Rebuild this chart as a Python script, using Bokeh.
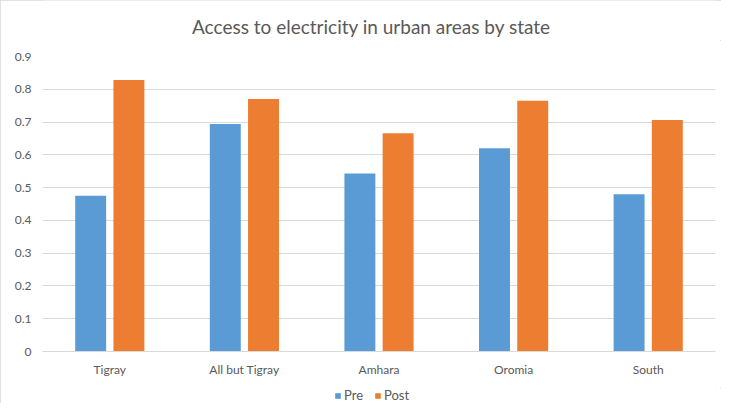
from bokeh.plotting import figure
from bokeh.layouts import column
from bokeh.models import (FactorRange, Range1d, FixedTicker, CustomJSTickFormatter,
                          Legend, LegendItem, ColumnDataSource, Label)
from bokeh.transform import dodge
from bokeh.embed import file_html
from bokeh.resources import INLINE

states = ["Tigray", "All but Tigray", "Amhara", "Oromia", "South"]
pre = [0.475, 0.694, 0.543, 0.620, 0.480]
post = [0.828, 0.770, 0.666, 0.765, 0.706]
y_ticks = [0.0, 0.1, 0.2, 0.3, 0.4, 0.5, 0.6, 0.7, 0.8, 0.9]
series_names = ["Pre", "Post"]
title_text = "Access to electricity in urban areas by state"

PRE_COLOR = "#5B9BD5"
POST_COLOR = "#ED7D31"
TEXT_COLOR = "#595959"
GRID_COLOR = "#D9D9D9"
FONT = "Lato"

source = ColumnDataSource(data=dict(state=states, pre=pre, post=post))

# strip above the chart holding the title (data units = pixels)
tt = figure(width=721, height=40, output_backend="svg", toolbar_location=None,
            x_range=Range1d(42, 715), y_range=Range1d(40, 0),
            min_border=0, min_border_left=0, min_border_right=0,
            min_border_top=0, min_border_bottom=0)
tt.axis.visible = False
tt.grid.visible = False
tt.outline_line_color = None
tt.add_layout(Label(x=371, y=26, text=title_text, text_align="center",
                    text_baseline="middle", text_font=FONT, text_font_size="19px",
                    text_color=TEXT_COLOR))

p = figure(width=721, height=347, output_backend="svg", toolbar_location=None,
           title=None,
           x_range=FactorRange(factors=states, range_padding=0),
           y_range=Range1d(0, 0.9),
           min_border_left=42, min_border_right=6, min_border_top=16, min_border_bottom=36)

r_pre = p.vbar(x=dodge("state", -0.142, range=p.x_range), top="pre", width=0.23,
               source=source, fill_color=PRE_COLOR, line_color=None)
r_post = p.vbar(x=dodge("state", 0.142, range=p.x_range), top="post", width=0.23,
                source=source, fill_color=POST_COLOR, line_color=None)

p.outline_line_color = None
p.xgrid.grid_line_color = None
p.ygrid.grid_line_color = GRID_COLOR
p.ygrid.grid_line_width = 1

p.yaxis.ticker = FixedTicker(ticks=y_ticks)
p.yaxis.formatter = CustomJSTickFormatter(code="return tick == 0 ? '0' : tick.toFixed(1);")
p.yaxis.axis_line_color = None
p.yaxis.major_tick_line_color = None
p.yaxis.minor_tick_line_color = None
p.yaxis.major_label_standoff = 5

p.xaxis.axis_line_color = GRID_COLOR
p.xaxis.major_tick_line_color = None
p.xaxis.minor_tick_line_color = None
p.xaxis.major_label_standoff = 4

for ax in (p.xaxis, p.yaxis):
    ax.major_label_text_font = FONT
    ax.major_label_text_font_size = "12px"
    ax.major_label_text_color = TEXT_COLOR

# small strip below the chart that holds the legend
lg = figure(width=721, height=16, output_backend="svg", toolbar_location=None,
            x_range=Range1d(0, 1), y_range=Range1d(0, 1),
            min_border=0, min_border_left=0, min_border_right=0,
            min_border_top=0, min_border_bottom=0)
lg.axis.visible = False
lg.grid.visible = False
lg.outline_line_color = None
# legend-only renderers (their single bar lies outside the visible range)
d_pre = lg.vbar(x=[10], top=[10], bottom=[9], width=0.1, fill_color=PRE_COLOR, line_color=None)
d_post = lg.vbar(x=[10], top=[10], bottom=[9], width=0.1, fill_color=POST_COLOR, line_color=None)

legend = Legend(items=[LegendItem(label=series_names[0], renderers=[d_pre]),
                       LegendItem(label=series_names[1], renderers=[d_post])],
                orientation="horizontal", location=(292, 0))
legend.border_line_color = None
legend.background_fill_alpha = 0
legend.glyph_width = 7
legend.glyph_height = 7
legend.label_text_font = FONT
legend.label_text_font_size = "13px"
legend.label_text_color = TEXT_COLOR
legend.label_standoff = 3
legend.spacing = 10
legend.padding = 0
legend.margin = 0
lg.add_layout(legend, "center")

layout = column(tt, p, lg, spacing=0)
layout.styles = {"outline": "1px solid #D9D9D9", "outline-offset": "-1px"}

open("out.html", "w").write(file_html(layout, INLINE))
